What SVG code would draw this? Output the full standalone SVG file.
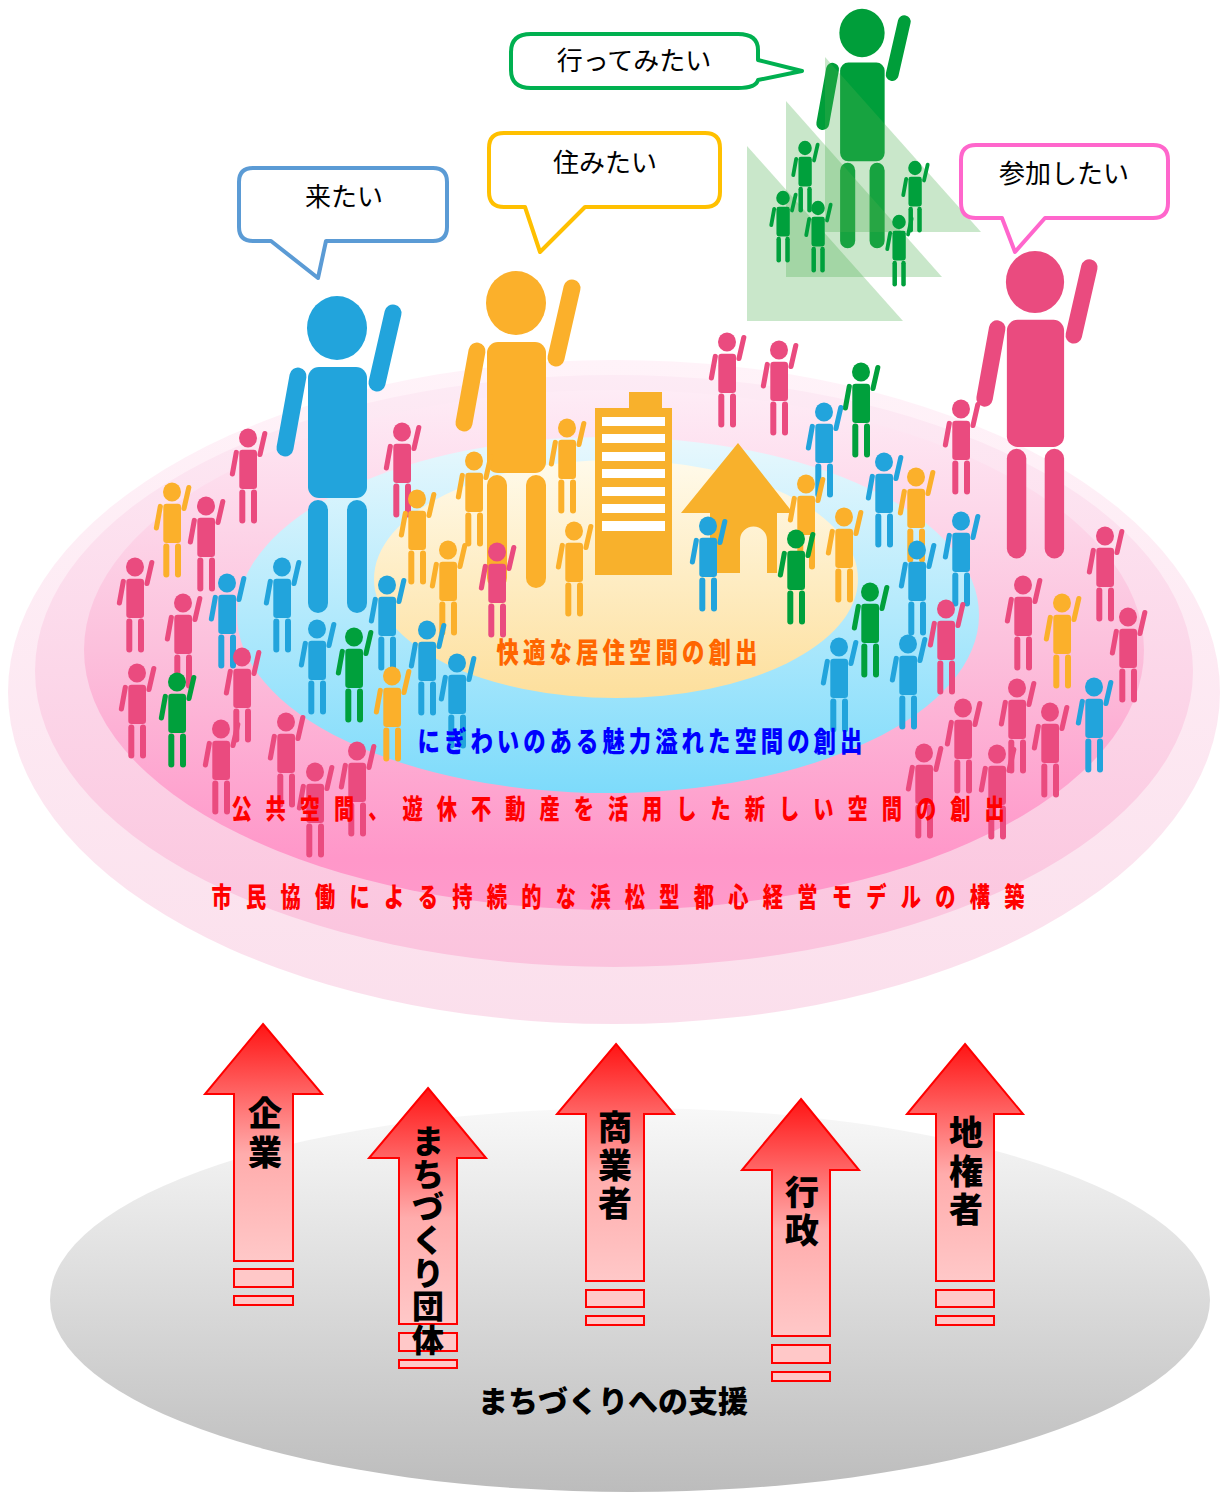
<svg xmlns="http://www.w3.org/2000/svg" xmlns:xlink="http://www.w3.org/1999/xlink" width="1223" height="1494" viewBox="0 0 1223 1494">
<style>
  .jp{font-family:"Noto Sans CJK JP","Noto Sans CJK SC",sans-serif}
  .bubble-text{font-size:26px;fill:#000}
  .band{font-weight:900}
  .arr-text{font-weight:900;font-size:34px;fill:#000;text-anchor:middle}
  .arrow{fill:url(#arrowGrad);stroke:#ff0000;stroke-width:2}
  .foot{fill:#ffc8c8;stroke:#ff0000;stroke-width:2}
  .pk{color:#ea4b7f}
  .bl{color:#22a4dc}
  .gr{color:#00a03c}
  .or{color:#fbb02b}
</style>
<defs>
  <linearGradient id="ring1" x1="0" y1="0" x2="0" y2="1">
    <stop offset="0" stop-color="#fff3f9"/>
    <stop offset="1" stop-color="#fbdfec"/>
  </linearGradient>
  <linearGradient id="ring2" x1="0" y1="0" x2="0" y2="1">
    <stop offset="0" stop-color="#fdebf5"/>
    <stop offset="1" stop-color="#fbc3dd"/>
  </linearGradient>
  <linearGradient id="ring3" x1="0" y1="0" x2="0" y2="1">
    <stop offset="0" stop-color="#feecf6"/>
    <stop offset="0.5" stop-color="#fcc0dc"/>
    <stop offset="0.9" stop-color="#ff97c9"/>
    <stop offset="1" stop-color="#ff9acb"/>
  </linearGradient>
  <linearGradient id="ringBlue" x1="0" y1="0" x2="0" y2="1">
    <stop offset="0" stop-color="#e8f8fd"/>
    <stop offset="1" stop-color="#7ddbfb"/>
  </linearGradient>
  <linearGradient id="ringYellow" x1="0" y1="0" x2="0" y2="1">
    <stop offset="0" stop-color="#fffaea"/>
    <stop offset="1" stop-color="#fddf9c"/>
  </linearGradient>
  <linearGradient id="ground" x1="0" y1="0" x2="0" y2="1">
    <stop offset="0" stop-color="#f8f8f8"/>
    <stop offset="1" stop-color="#bcbcbc"/>
  </linearGradient>
  <linearGradient id="arrowGrad" x1="0" y1="0" x2="0" y2="1">
    <stop offset="0" stop-color="#ff1414"/>
    <stop offset="0.55" stop-color="#ffacac"/>
    <stop offset="1" stop-color="#ffc8c8"/>
  </linearGradient>
  <!-- person pictogram, head centred on the origin -->
  <g id="person" fill="currentColor">
    <ellipse cx="0" cy="0" rx="30" ry="32"/>
    <rect x="-29" y="39" width="59" height="131" rx="11"/>
    <rect x="-29" y="172" width="20" height="113" rx="10"/>
    <rect x="10" y="172" width="20" height="113" rx="10"/>
    <line x1="-39" y1="48" x2="-52" y2="120" stroke="currentColor" stroke-width="17" stroke-linecap="round"/>
    <line x1="56" y1="-15" x2="40" y2="55" stroke="currentColor" stroke-width="17" stroke-linecap="round"/>
  </g>
</defs>

<!-- nested plaza rings -->
<g id="rings">
  <ellipse cx="614" cy="692" rx="606" ry="332" fill="url(#ring1)"/>
  <ellipse cx="614" cy="671" rx="579" ry="296" fill="url(#ring2)"/>
  <ellipse cx="614" cy="650" rx="530" ry="260" fill="url(#ring3)"/>
  <ellipse cx="608" cy="615" rx="371" ry="178" fill="url(#ringBlue)"/>
  <ellipse cx="616" cy="579" rx="242" ry="119" fill="url(#ringYellow)"/>
</g>

<!-- building and house -->
<g id="building" fill="#f8b12c">
  <rect x="629" y="392" width="33" height="20"/>
  <rect x="595" y="408" width="77" height="167"/>
  <g fill="#ffffff">
    <rect x="602" y="417" width="63" height="9"/>
    <rect x="602" y="434" width="63" height="9"/>
    <rect x="602" y="452" width="63" height="9"/>
    <rect x="602" y="469" width="63" height="9"/>
    <rect x="602" y="487" width="63" height="9"/>
    <rect x="602" y="504" width="63" height="9"/>
    <rect x="602" y="521" width="63" height="10"/>
  </g>
</g>
<g id="house">
  <path fill="#f8b12c" fill-rule="evenodd" d="M738,443 L793,513 L777,513 L777,573 L710,573 L710,513 L681,513 Z M740,573 L740,540 A13.5,13.5 0 0 1 767,540 L767,573 Z"/>
</g>

<!-- large figures -->
<g id="big-blue"><use href="#person" class="bl" transform="translate(337,328)"/></g>
<g id="big-orange"><use href="#person" class="or" transform="translate(516,303)"/></g>
<g id="big-pink"><use href="#person" class="pk" transform="translate(1035,282) scale(0.97)"/></g>
<g id="big-green"><use href="#person" style="color:#009e3a" transform="translate(862,33) scale(0.755)"/></g>

<!-- green group with stepped triangles -->
<g id="green-group">
  <g fill="#4caf50" fill-opacity="0.3">
    <polygon points="825,57 825,232 981,232"/>
    <polygon points="786,101 786,277 942,277"/>
    <polygon points="747,146 747,321 903,321"/>
  </g>
  <use href="#person" class="gr" transform="translate(805,148) scale(0.226)"/>
  <use href="#person" class="gr" transform="translate(915,168) scale(0.226)"/>
  <use href="#person" class="gr" transform="translate(783,198) scale(0.226)"/>
  <use href="#person" class="gr" transform="translate(818,208) scale(0.226)"/>
  <use href="#person" class="gr" transform="translate(899,222) scale(0.226)"/>
</g>

<!-- crowd -->
<g id="crowd">
  <use href="#person" class="pk" transform="translate(727,342) scale(0.3)"/>
  <use href="#person" class="pk" transform="translate(779,350) scale(0.3)"/>
  <use href="#person" class="gr" transform="translate(861,372) scale(0.3)"/>
  <use href="#person" class="pk" transform="translate(961,409) scale(0.3)"/>
  <use href="#person" class="bl" transform="translate(824,412) scale(0.3)"/>
  <use href="#person" class="or" transform="translate(567,428) scale(0.3)"/>
  <use href="#person" class="pk" transform="translate(402,432) scale(0.3)"/>
  <use href="#person" class="pk" transform="translate(248,438) scale(0.3)"/>
  <use href="#person" class="or" transform="translate(474,461) scale(0.3)"/>
  <use href="#person" class="bl" transform="translate(884,462) scale(0.3)"/>
  <use href="#person" class="or" transform="translate(916,477) scale(0.3)"/>
  <use href="#person" class="or" transform="translate(806,484) scale(0.3)"/>
  <use href="#person" class="or" transform="translate(172,492) scale(0.3)"/>
  <use href="#person" class="or" transform="translate(417,499) scale(0.3)"/>
  <use href="#person" class="pk" transform="translate(206,506) scale(0.3)"/>
  <use href="#person" class="or" transform="translate(844,517) scale(0.3)"/>
  <use href="#person" class="bl" transform="translate(961,521) scale(0.3)"/>
  <use href="#person" class="bl" transform="translate(708,526) scale(0.3)"/>
  <use href="#person" class="or" transform="translate(574,531) scale(0.3)"/>
  <use href="#person" class="pk" transform="translate(1105,536) scale(0.3)"/>
  <use href="#person" class="gr" transform="translate(796,539) scale(0.3)"/>
  <use href="#person" class="or" transform="translate(448,550) scale(0.3)"/>
  <use href="#person" class="bl" transform="translate(917,550) scale(0.3)"/>
  <use href="#person" class="pk" transform="translate(497,552) scale(0.3)"/>
  <use href="#person" class="pk" transform="translate(135,567) scale(0.3)"/>
  <use href="#person" class="bl" transform="translate(282,567) scale(0.3)"/>
  <use href="#person" class="bl" transform="translate(227,583) scale(0.3)"/>
  <use href="#person" class="pk" transform="translate(1023,585) scale(0.3)"/>
  <use href="#person" class="bl" transform="translate(387,585) scale(0.3)"/>
  <use href="#person" class="gr" transform="translate(870,592) scale(0.3)"/>
  <use href="#person" class="pk" transform="translate(183,603) scale(0.3)"/>
  <use href="#person" class="or" transform="translate(1062,603) scale(0.3)"/>
  <use href="#person" class="pk" transform="translate(946,609) scale(0.3)"/>
  <use href="#person" class="pk" transform="translate(1128,617) scale(0.3)"/>
  <use href="#person" class="bl" transform="translate(317,629) scale(0.3)"/>
  <use href="#person" class="bl" transform="translate(427,630) scale(0.3)"/>
  <use href="#person" class="gr" transform="translate(354,637) scale(0.3)"/>
  <use href="#person" class="bl" transform="translate(908,644) scale(0.3)"/>
  <use href="#person" class="bl" transform="translate(839,647) scale(0.3)"/>
  <use href="#person" class="pk" transform="translate(242,657) scale(0.3)"/>
  <use href="#person" class="bl" transform="translate(457,663) scale(0.3)"/>
  <use href="#person" class="pk" transform="translate(137,673) scale(0.3)"/>
  <use href="#person" class="or" transform="translate(392,676) scale(0.3)"/>
  <use href="#person" class="gr" transform="translate(177,682) scale(0.3)"/>
  <use href="#person" class="bl" transform="translate(1094,687) scale(0.3)"/>
  <use href="#person" class="pk" transform="translate(1017,688) scale(0.3)"/>
  <use href="#person" class="pk" transform="translate(963,708) scale(0.3)"/>
  <use href="#person" class="pk" transform="translate(1050,712) scale(0.3)"/>
  <use href="#person" class="pk" transform="translate(286,722) scale(0.3)"/>
  <use href="#person" class="pk" transform="translate(221,729) scale(0.3)"/>
  <use href="#person" class="pk" transform="translate(357,751) scale(0.3)"/>
  <use href="#person" class="pk" transform="translate(924,753) scale(0.3)"/>
  <use href="#person" class="pk" transform="translate(997,754) scale(0.3)"/>
  <use href="#person" class="pk" transform="translate(315,772) scale(0.3)"/>
</g>

<!-- ring captions -->
<g id="ring-labels" class="jp band" text-anchor="middle">
  <text transform="translate(627,663) scale(0.8,1)" fill="#ff6600" font-size="28" textLength="326" lengthAdjust="spacing">快適な居住空間の創出</text>
  <text transform="translate(640,752) scale(0.8,1)" fill="#0000ff" font-size="28" textLength="556" lengthAdjust="spacing">にぎわいのある魅力溢れた空間の創出</text>
  <text transform="translate(618,819) scale(0.75,1)" fill="#ff0000" font-size="27" textLength="1031" lengthAdjust="spacing">公共空間、遊休不動産を活用した新しい空間の創出</text>
  <text transform="translate(618,907) scale(0.75,1)" fill="#ff0000" font-size="27" textLength="1084" lengthAdjust="spacing">市民協働による持続的な浜松型都心経営モデルの構築</text>
</g>

<!-- speech bubbles -->
<g id="bubble-kitai">
  <path d="M253,168 H433 Q447,168 447,182 V227 Q447,241 433,241 H326 L318,278 L271,241 H253 Q239,241 239,227 V182 Q239,168 253,168 Z" fill="#fff" stroke="#5b9bd5" stroke-width="4" stroke-linejoin="round"/>
  <text class="jp bubble-text" x="344" y="206" text-anchor="middle">来たい</text>
</g>
<g id="bubble-sumitai">
  <path d="M504,133 H705 Q720,133 720,148 V192 Q720,207 705,207 H585 L540,252 L525,207 H504 Q489,207 489,192 V148 Q489,133 504,133 Z" fill="#fff" stroke="#ffc000" stroke-width="4" stroke-linejoin="round"/>
  <text class="jp bubble-text" x="605" y="172" text-anchor="middle">住みたい</text>
</g>
<g id="bubble-ittemitai">
  <path d="M531,34 H738 Q758,34 758,50 V60 L802,71 L758,80 Q756,88 738,88 H531 Q511,88 511,70 V52 Q511,34 531,34 Z" fill="#fff" stroke="#00b050" stroke-width="4" stroke-linejoin="round"/>
  <text class="jp bubble-text" x="634" y="70" text-anchor="middle">行ってみたい</text>
</g>
<g id="bubble-sankashitai">
  <path d="M976,145 H1153 Q1168,145 1168,160 V203 Q1168,218 1153,218 H1045 L1015,252 L1002,218 H976 Q961,218 961,203 V160 Q961,145 976,145 Z" fill="#fff" stroke="#ff66cc" stroke-width="4" stroke-linejoin="round"/>
  <text class="jp bubble-text" x="1064" y="183" text-anchor="middle">参加したい</text>
</g>

<!-- support base -->
<g id="support">
  <ellipse cx="630" cy="1300" rx="580" ry="192" fill="url(#ground)"/>
  <text class="jp" x="613" y="1412" text-anchor="middle" font-size="30" font-weight="900" fill="#000">まちづくりへの支援</text>
</g>

<!-- supporting actors -->
<g id="arrow-kigyo">
  <path class="arrow" d="M263,1024 L322,1094 L293,1094 L293,1261 L234,1261 L234,1094 L205,1094 Z"/>
  <rect class="foot" x="234" y="1269" width="59" height="18"/>
  <rect class="foot" x="234" y="1296" width="59" height="9"/>
  <text class="jp arr-text"><tspan x="265" y="1126">企</tspan><tspan x="265" y="1165">業</tspan></text>
</g>
<g id="arrow-dantai">
  <path class="arrow" d="M428,1088 L486,1158 L457,1158 L457,1324 L399,1324 L399,1158 L369,1158 Z"/>
  <rect class="foot" x="399" y="1333" width="58" height="18"/>
  <rect class="foot" x="399" y="1360" width="58" height="8"/>
  <text class="jp arr-text" style="font-size:32px"><tspan x="428" y="1153">ま</tspan><tspan x="428" y="1186">ち</tspan><tspan x="428" y="1219">づ</tspan><tspan x="428" y="1252">く</tspan><tspan x="428" y="1285">り</tspan><tspan x="428" y="1318">団</tspan><tspan x="428" y="1352">体</tspan></text>
</g>
<g id="arrow-shogyosha">
  <path class="arrow" d="M616,1044 L674,1114 L644,1114 L644,1281 L586,1281 L586,1114 L557,1114 Z"/>
  <rect class="foot" x="586" y="1290" width="58" height="17"/>
  <rect class="foot" x="586" y="1316" width="58" height="9"/>
  <text class="jp arr-text"><tspan x="615" y="1140">商</tspan><tspan x="615" y="1178">業</tspan><tspan x="615" y="1216">者</tspan></text>
</g>
<g id="arrow-gyosei">
  <path class="arrow" d="M801,1099 L859,1170 L830,1170 L830,1336 L772,1336 L772,1170 L742,1170 Z"/>
  <rect class="foot" x="772" y="1345" width="58" height="18"/>
  <rect class="foot" x="772" y="1372" width="58" height="9"/>
  <text class="jp arr-text"><tspan x="802" y="1205">行</tspan><tspan x="802" y="1243">政</tspan></text>
</g>
<g id="arrow-chikensha">
  <path class="arrow" d="M965,1044 L1023,1114 L994,1114 L994,1281 L936,1281 L936,1114 L907,1114 Z"/>
  <rect class="foot" x="936" y="1290" width="58" height="17"/>
  <rect class="foot" x="936" y="1316" width="58" height="9"/>
  <text class="jp arr-text"><tspan x="966" y="1145">地</tspan><tspan x="966" y="1184">権</tspan><tspan x="966" y="1222">者</tspan></text>
</g>
</svg>
